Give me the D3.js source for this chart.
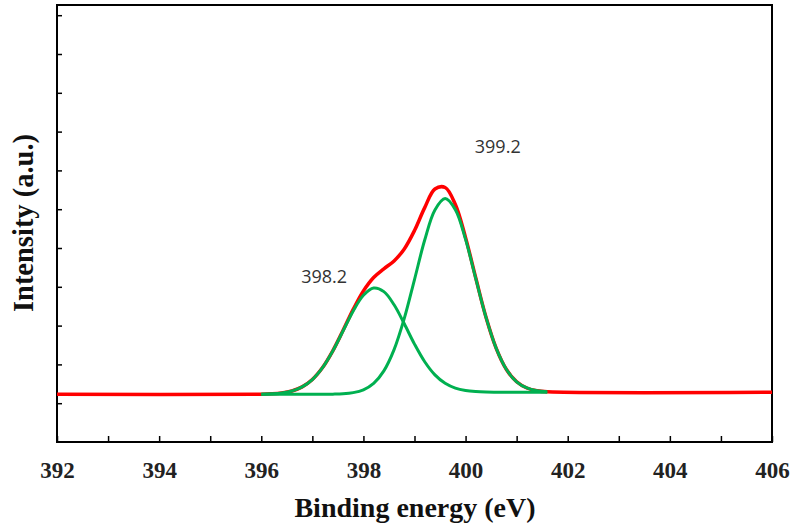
<!DOCTYPE html>
<html>
<head>
<meta charset="utf-8">
<script src="https://cdn.jsdelivr.net/npm/d3@7"></script>
<style>
  html, body { margin: 0; padding: 0; background: #fff; }
  svg { display: block; }
</style>
</head>
<body>
<svg id="chart" width="796" height="528"></svg>
<script>
// ---- data ----
const energy = [396.0, 396.2, 396.4, 396.6, 396.8, 397.0, 397.2, 397.4, 397.6, 397.8,
                398.0, 398.2, 398.4, 398.6, 398.8, 399.0, 399.2, 399.4, 399.6, 399.8,
                400.0, 400.2, 400.4, 400.6, 400.8, 401.0, 401.2, 401.4, 401.6];
const envelope = [1233, 1242, 1264, 1315, 1420, 1610, 1918, 2349, 2873, 3419,
                  3894, 4240, 4464, 4667, 4976, 5450, 6040, 6520, 6560, 6120,
                  5267, 4226, 3217, 2414, 1869, 1552, 1392, 1321, 1294];
const peak398 = [1233, 1242, 1264, 1315, 1420, 1610, 1917, 2345, 2860, 3379,
                 3783, 3969, 3876, 3536, 3046, 2523, 2069, 1731, 1513, 1389,
                 1327, 1299, 1287, 1283, 1281, 1281, 1281, 1281, 1281];
const peak399 = [1229, 1229, 1229, 1229, 1229, 1229, 1230, 1233, 1242, 1272,
                 1345, 1511, 1833, 2381, 3185, 4187, 5205, 5981, 6275, 5989,
                 5221, 4208, 3211, 2412, 1869, 1552, 1392, 1321, 1294];
const backgroundEnds = { left: [392, 1229], right: [406, 1281] };
const xTickLabels = [392, 394, 396, 398, 400, 402, 404, 406];
const xMinorTicks = [393, 395, 397, 399, 401, 403, 405];
const yTicks = [1000, 2000, 3000, 4000, 5000, 6000, 7000, 8000, 9000, 10000, 11000];
const peakLabels = [
  { text: "398.2", x: 397.23, y: 4230 },
  { text: "399.2", x: 400.63, y: 7577 }
];

// ---- layout ----
const W = 796, H = 528;
const margin = { left: 57, right: 24, top: 5, bottom: 86 };
const svg = d3.select("#chart");
const x = d3.scaleLinear().domain([392, 406]).range([margin.left, W - margin.right]);
const y = d3.scaleLinear().domain([0, 11263]).range([H - margin.bottom, margin.top]);

// frame
svg.append("rect")
  .attr("x", margin.left).attr("y", margin.top)
  .attr("width", W - margin.left - margin.right)
  .attr("height", H - margin.top - margin.bottom)
  .attr("fill", "none").attr("stroke", "#000").attr("stroke-width", 2);

// x axis (ticks inside)
const xAxis = svg.append("g").attr("transform", `translate(0,${H - margin.bottom})`);
xAxis.call(d3.axisBottom(x).tickValues(xTickLabels.concat(xMinorTicks))
  .tickSize(-6).tickPadding(20).tickFormat(d => xTickLabels.includes(d) ? d3.format("d")(d) : ""));
xAxis.select(".domain").remove();
xAxis.selectAll(".tick line").attr("stroke", "#000").attr("stroke-width", 1.5);
xAxis.selectAll(".tick text")
  .attr("font-family", "'Liberation Serif', 'Times New Roman', serif")
  .attr("font-weight", "bold").attr("font-size", 23).attr("fill", "#222");

// y axis (ticks inside, no labels)
const yAxis = svg.append("g").attr("transform", `translate(${margin.left},0)`);
yAxis.call(d3.axisLeft(y).tickValues(yTicks).tickSize(-5).tickFormat(""));
yAxis.select(".domain").remove();
yAxis.selectAll(".tick line").attr("stroke", "#000").attr("stroke-width", 1.5);

// axis titles
svg.append("text")
  .attr("x", 415).attr("y", 517)
  .attr("text-anchor", "middle")
  .attr("font-family", "'Liberation Serif', 'Times New Roman', serif")
  .attr("font-weight", "bold").attr("font-size", 28).attr("fill", "#111")
  .text("Binding energy (eV)");
svg.append("text")
  .attr("transform", "translate(33,223) rotate(-90)")
  .attr("text-anchor", "middle")
  .attr("font-family", "'Liberation Serif', 'Times New Roman', serif")
  .attr("font-weight", "bold").attr("font-size", 28.5).attr("fill", "#111")
  .text("Intensity (a.u.)");

// curves
const line = d3.line().x(d => x(d[0])).y(d => y(d[1])).curve(d3.curveCatmullRom.alpha(0.5));
const envPts = [backgroundEnds.left].concat(energy.map((e, i) => [e, envelope[i]]), [backgroundEnds.right]);
svg.append("path").datum(envPts).attr("d", line)
  .attr("fill", "none").attr("stroke", "#ff0000").attr("stroke-width", 3.5);
[peak398, peak399].forEach(arr => {
  svg.append("path").datum(energy.map((e, i) => [e, arr[i]])).attr("d", line)
    .attr("fill", "none").attr("stroke", "#00b050").attr("stroke-width", 3);
});

// peak labels
peakLabels.forEach(p => {
  svg.append("text").attr("x", x(p.x)).attr("y", y(p.y))
    .attr("text-anchor", "middle").attr("dominant-baseline", "middle")
    .attr("font-family", "'Open Sans', 'Noto Sans', sans-serif")
    .attr("font-size", 18).attr("fill", "#333")
    .text(p.text);
});
</script>
</body>
</html>
